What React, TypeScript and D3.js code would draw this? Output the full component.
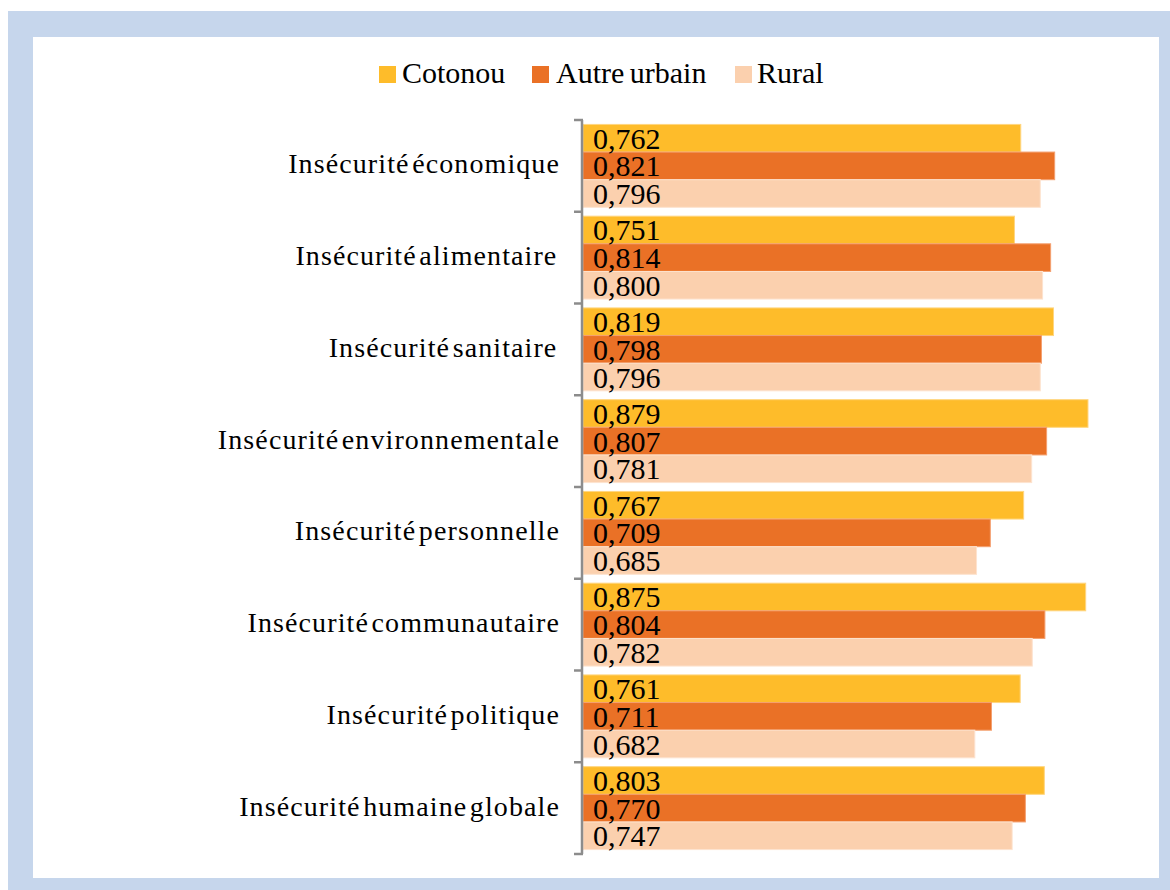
import React from "react";
import * as d3 from "d3";

const categories = [
  "Insécurité économique",
  "Insécurité alimentaire ",
  "Insécurité sanitaire ",
  "Insécurité environnementale",
  "Insécurité personnelle",
  "Insécurité communautaire",
  "Insécurité politique",
  "Insécurité humaine globale",
];
const seriesNames = ["Cotonou", "Autre urbain", "Rural"];
const cotonou = [0.762, 0.751, 0.819, 0.879, 0.767, 0.875, 0.761, 0.803];
const autreUrbain = [0.821, 0.814, 0.798, 0.807, 0.709, 0.804, 0.711, 0.77];
const rural = [0.796, 0.8, 0.796, 0.781, 0.685, 0.782, 0.682, 0.747];
const colors = ["#FEBC2A", "#EA7126", "#FBD0AE"];
const strokes = ["#FFD680", "#F4A070", "#FDE3CF"];

const seriesValues = [cotonou, autreUrbain, rural];
const fmt = (v: number) => v.toFixed(3).replace(".", ",");

export default function App() {
  const W = 1170, H = 890;
  const x = d3.scaleLinear().domain([0, 1]).range([583, 1157.5]);
  const y = d3.scaleBand<string>().domain(categories).range([120, 854]).paddingInner(0).paddingOuter(0);
  const yi = d3.scaleBand<string>().domain(seriesNames).range([0, y.bandwidth()]).paddingInner(0).paddingOuter(0.16);
  const serif = "Liberation Serif";
  const tickYs = [...categories.map((c) => y(c) as number), 854];

  const legendItems = [
    { name: seriesNames[0], sx: 379, tx: 402 },
    { name: seriesNames[1], sx: 532, tx: 556 },
    { name: seriesNames[2], sx: 735, tx: 757 },
  ];

  return (
    <svg width={W} height={H} style={{ position: "absolute", left: 0, top: 0, background: "#fff" }}>
      <rect x={8} y={11} width={W - 8} height={H - 11} fill="#C6D6EC" />
      <rect x={33} y={37} width={1159 - 33} height={878 - 37} fill="#fff" />

      {legendItems.map((l, i) => (
        <g key={l.name}>
          <rect x={l.sx} y={66} width={17} height={17} fill={colors[i]} />
          <text x={l.tx} y={83} fontFamily={serif} fontSize={30} wordSpacing={-2} fill="#000">{l.name}</text>
        </g>
      ))}

      {categories.map((c, ci) => (
        <g key={c} transform={`translate(0,${y(c)})`}>
          {seriesNames.map((s, si) => {
            const v = seriesValues[si][ci];
            const by = yi(s) as number;
            return (
              <rect key={s} x={x(0)} y={by} width={x(v) - x(0)} height={yi.bandwidth()} fill={colors[si]} stroke={strokes[si]} strokeWidth={1} />
            );
          })}
        </g>
      ))}

      {categories.map((c, ci) => (
        <g key={c + "-lbl"} transform={`translate(0,${y(c)})`}>
          {seriesNames.map((s, si) => {
            const v = seriesValues[si][ci];
            const by = yi(s) as number;
            return (
              <text key={s} x={593} y={by + yi.bandwidth() / 2 + 10.5} fontFamily={serif} fontSize={30} fill="#000">{fmt(v)}</text>
            );
          })}
          <text x={560} y={y.bandwidth() / 2 + 7.5} textAnchor="end" fontFamily={serif} fontSize={28} letterSpacing={1.1} wordSpacing={-5.5} fill="#000" style={{ whiteSpace: "pre" }}>{c}</text>
        </g>
      ))}

      <line x1={582} x2={582} y1={120} y2={854} stroke="#8C8C8C" strokeWidth={2.5} />
      {tickYs.map((t, i) => (
        <line key={i} x1={574} x2={583} y1={t} y2={t} stroke="#8C8C8C" strokeWidth={2.5} />
      ))}
    </svg>
  );
}
